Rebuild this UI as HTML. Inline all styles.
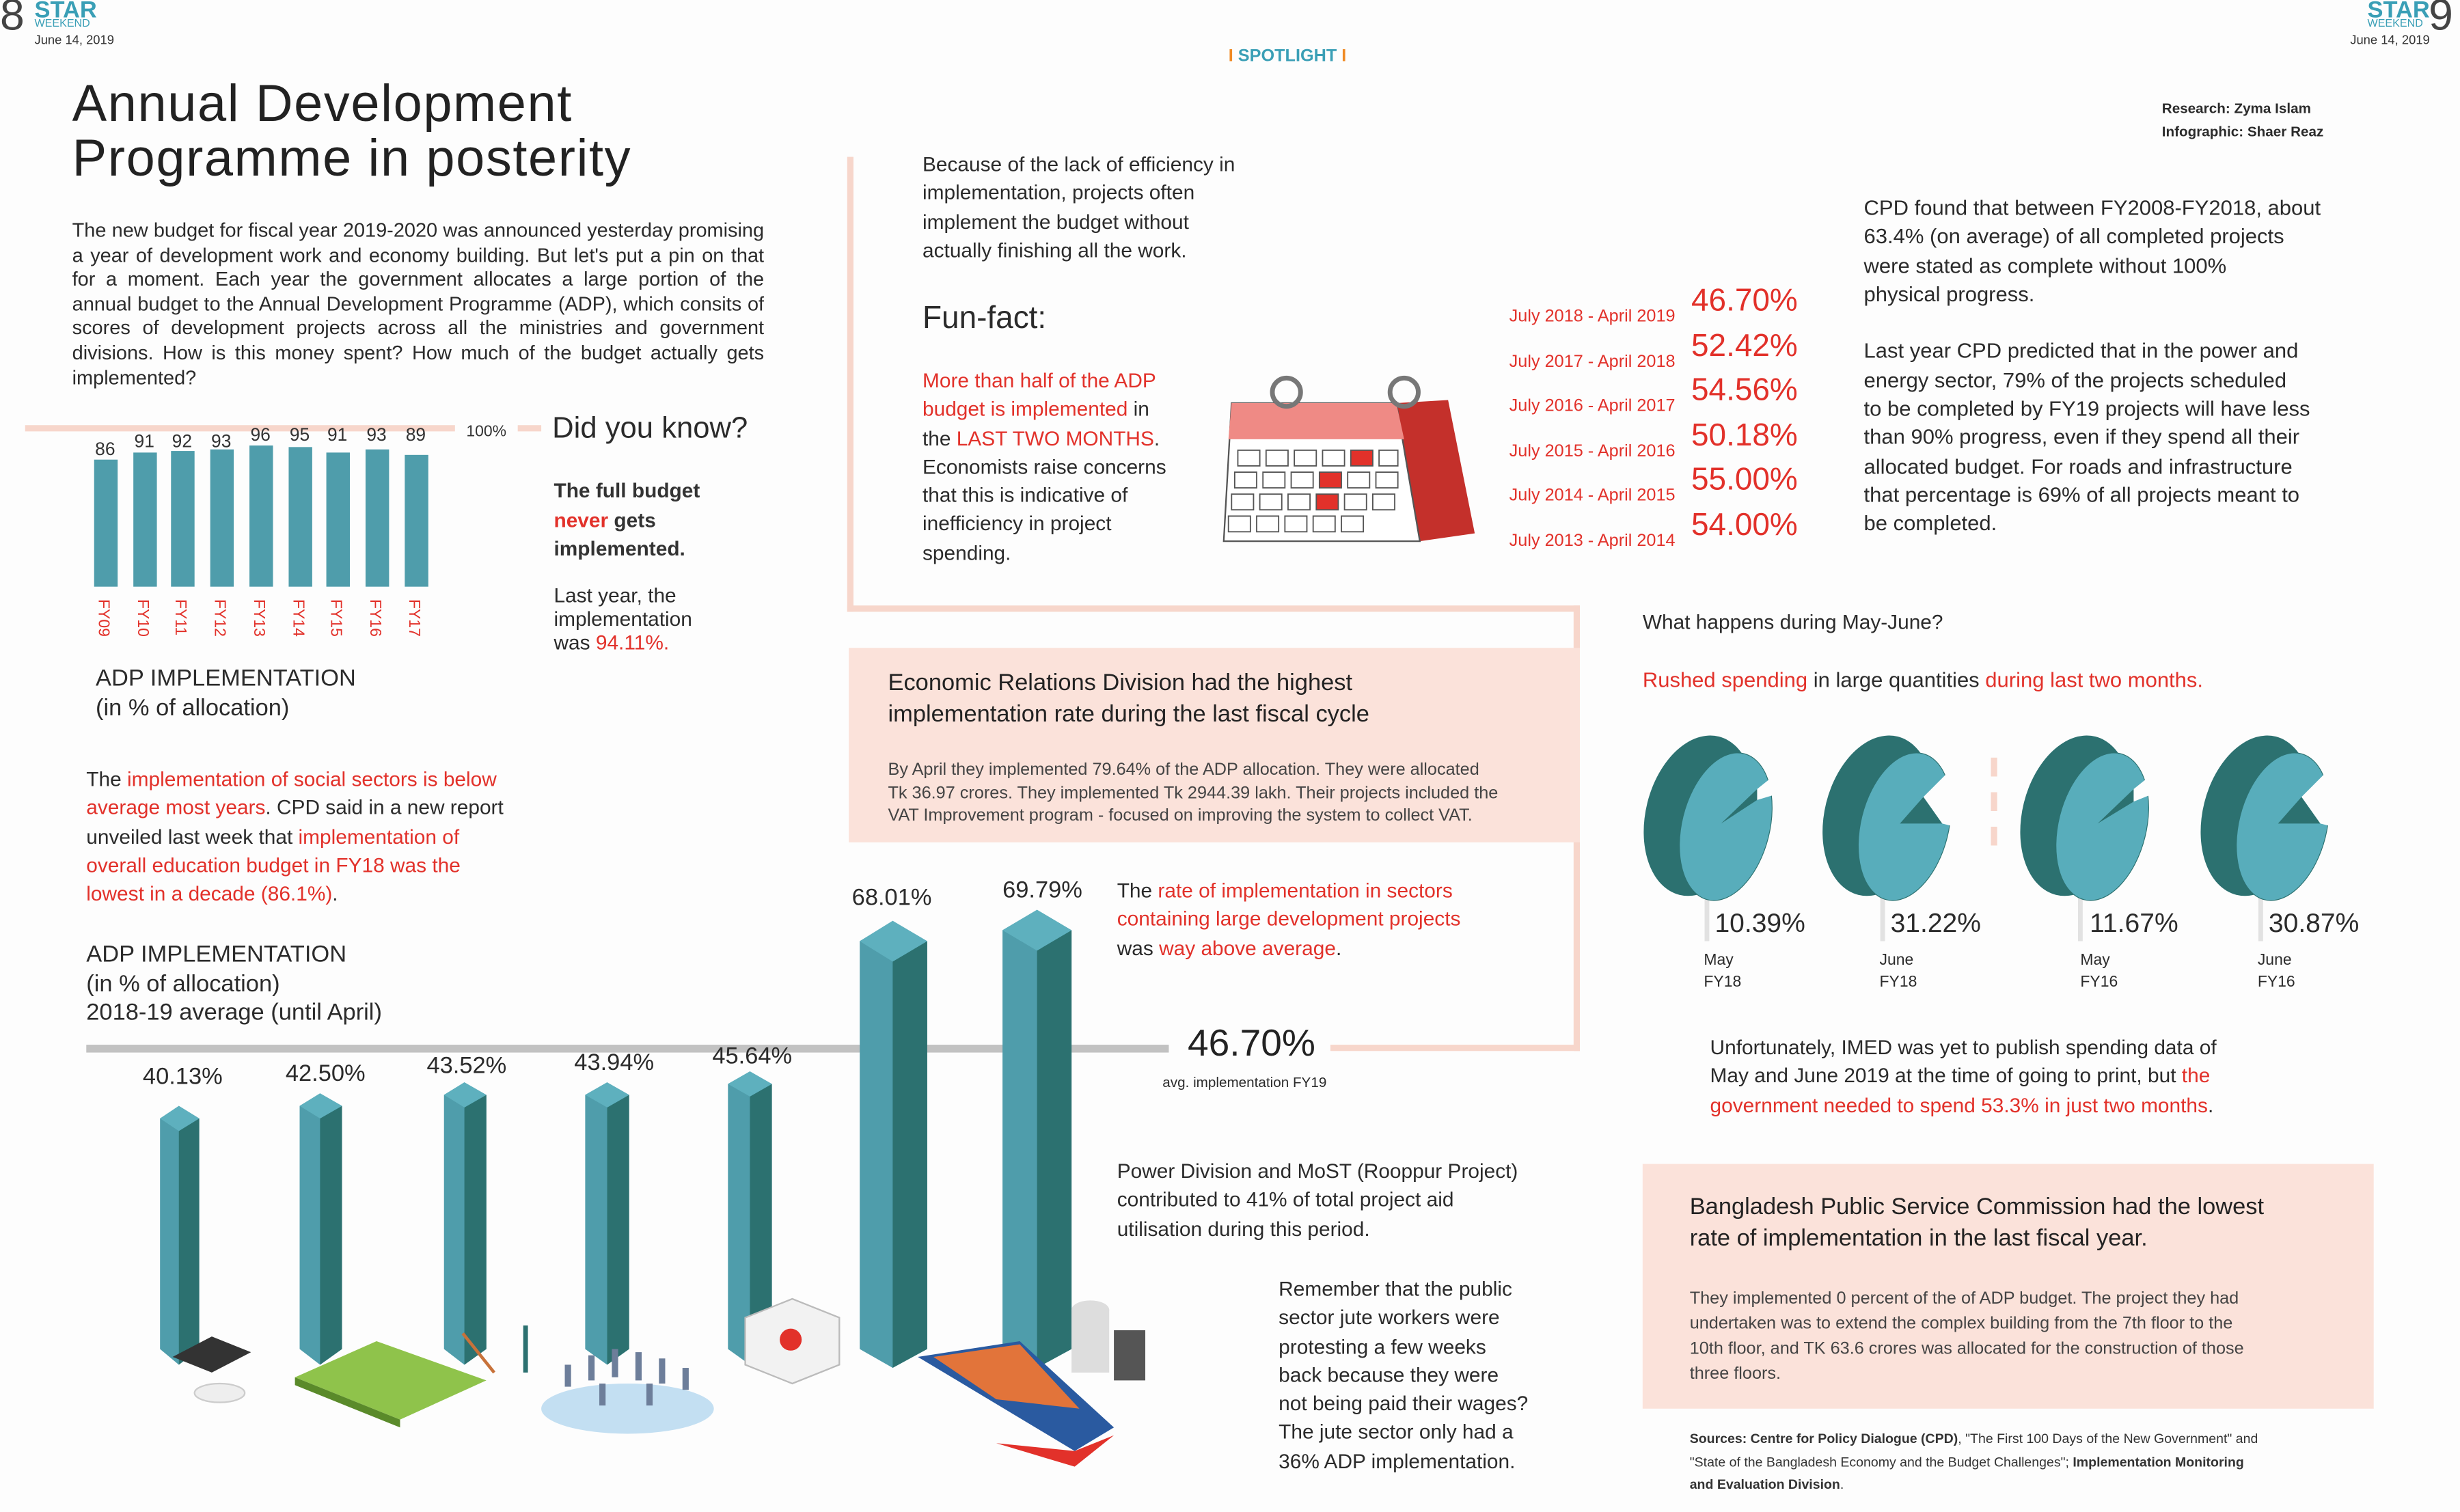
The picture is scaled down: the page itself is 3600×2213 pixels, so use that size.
<!DOCTYPE html>
<html><head><meta charset="utf-8"><style>
html,body{margin:0;padding:0;background:#fdfdfd;}
#w{width:3600px;height:2213px;overflow:hidden;position:relative;}
#p{position:absolute;left:0;top:0;width:1568px;height:964px;transform:scale(2.29592);transform-origin:0 0;font-family:"Liberation Sans Narrow","Liberation Sans",sans-serif;color:#2b2b2b;background:#fdfdfd;}
.a{position:absolute;white-space:nowrap;}
.r{color:#e2312a;}
.t{font-size:13px;line-height:18.3px;}
</style></head><body><div id="w"><div id="p">

<div class="a" style="left:0;top:-6px;font-size:28px;color:#444;">8</div>
<div class="a" style="left:22px;top:-2px;font-size:15px;font-weight:bold;color:#3a9fb6;">STAR</div>
<div class="a" style="left:22px;top:12px;font-size:7px;color:#3a9fb6;">WEEKEND</div>
<div class="a" style="left:22px;top:21px;font-size:8px;color:#333;">June 14, 2019</div>
<div class="a" style="left:1509px;top:-2px;font-size:15px;font-weight:bold;color:#3a9fb6;">STAR</div>
<div class="a" style="left:1509px;top:12px;font-size:7px;color:#3a9fb6;">WEEKEND</div>
<div class="a" style="left:1498px;top:21px;font-size:8px;color:#333;">June 14, 2019</div>
<div class="a" style="left:1548px;top:-6px;font-size:28px;color:#444;">9</div>
<div class="a" style="left:783px;top:30px;font-size:11px;font-weight:bold;color:#3a9fb6;"><span style="color:#f08a24">I</span> SPOTLIGHT <span style="color:#f08a24">I</span></div>

<div class="a" style="left:1378px;top:62px;font-size:9px;font-weight:bold;line-height:15px;">Research: Zyma Islam<br>Infographic: Shaer Reaz</div>

<div class="a" style="left:46px;top:48px;font-size:33px;line-height:35px;color:#222;letter-spacing:0.7px;">Annual Development<br>Programme in posterity</div>
<div class="a" style="left:46px;top:140px;width:441px;white-space:normal;text-align:justify;font-size:12.6px;line-height:15.6px;">The new budget for fiscal year 2019-2020 was announced yesterday promising a year of development work and economy building. But let's put a pin on that for a moment. Each year the government allocates a large portion of the annual budget to the Annual Development Programme (ADP), which consits of scores of development projects across all the ministries and government divisions. How is this money spent? How much of the budget actually gets implemented?</div>

<svg class="a" style="left:0;top:260px" width="350" height="160">
<line x1="16" y1="13" x2="345" y2="13" stroke="#f7d6cb" stroke-width="4"/>
<g fill="#4f9dab">
<rect x="60" y="33" width="15" height="81"/>
<rect x="85" y="28.5" width="15" height="85.5"/>
<rect x="109" y="27.5" width="15" height="86.5"/>
<rect x="134" y="26.5" width="15" height="87.5"/>
<rect x="159" y="24" width="15" height="90"/>
<rect x="184" y="25" width="15" height="89"/>
<rect x="208" y="28.5" width="15" height="85.5"/>
<rect x="233" y="26.5" width="15" height="87.5"/>
<rect x="258" y="30" width="15" height="84"/>
</g>
<g font-size="11.5" fill="#333" text-anchor="middle" font-family="Liberation Sans Narrow,Liberation Sans,sans-serif">
<rect x="55" y="16" width="225" height="8" fill="#fdfdfd"/>
<rect x="290" y="6" width="40" height="14" fill="#fdfdfd"/>
<text x="67" y="30">86</text><text x="92" y="25">91</text><text x="116" y="25">92</text><text x="141" y="25">93</text><text x="166" y="21">96</text><text x="191" y="21">95</text><text x="215" y="21">91</text><text x="240" y="21">93</text><text x="265" y="21">89</text>
<text x="310" y="18" font-size="10">100%</text>
</g>
<g font-size="10" fill="#e2312a" font-family="Liberation Sans Narrow,Liberation Sans,sans-serif">
<text transform="translate(63,122) rotate(90)">FY09</text>
<text transform="translate(88,122) rotate(90)">FY10</text>
<text transform="translate(112,122) rotate(90)">FY11</text>
<text transform="translate(137,122) rotate(90)">FY12</text>
<text transform="translate(162,122) rotate(90)">FY13</text>
<text transform="translate(187,122) rotate(90)">FY14</text>
<text transform="translate(211,122) rotate(90)">FY15</text>
<text transform="translate(236,122) rotate(90)">FY16</text>
<text transform="translate(261,122) rotate(90)">FY17</text>
</g>
</svg>
<div class="a" style="left:352px;top:263px;font-size:19px;">Did you know?</div>
<div class="a" style="left:353px;top:304px;font-size:13px;line-height:18.5px;font-weight:bold;color:#333;">The full budget<br><span class="r">never</span> gets<br>implemented.</div>
<div class="a" style="left:353px;top:372px;font-size:13px;line-height:15px;">Last year, the<br>implementation<br>was <span class="r">94.11%.</span></div>
<div class="a" style="left:61px;top:423px;font-size:15px;line-height:19px;">ADP IMPLEMENTATION<br>(in % of allocation)</div>

<div class="a t" style="left:55px;top:488px;">The <span class="r">implementation of social sectors is below</span><br><span class="r">average most years</span>. CPD said in a new report<br>unveiled last week that <span class="r">implementation of</span><br><span class="r">overall education budget in FY18 was the</span><br><span class="r">lowest in a decade (86.1%)</span>.</div>

<div class="a" style="left:55px;top:600px;font-size:15px;line-height:18.5px;">ADP IMPLEMENTATION<br>(in % of allocation)<br>2018-19 average (until April)</div>

<div class="a" style="left:540px;top:100px;width:4px;height:290px;background:#f7d6cb;"></div>
<div class="a" style="left:540px;top:386px;width:467px;height:4px;background:#f7d6cb;"></div>
<div class="a" style="left:1003px;top:386px;width:4px;height:284px;background:#f7d6cb;"></div>
<div class="a" style="left:848px;top:666px;width:159px;height:4px;background:#f7d6cb;"></div>
<div class="a" style="left:55px;top:666px;width:690px;height:5px;background:#c2c2c2;"></div>
<div class="a" style="left:757px;top:652px;font-size:24px;color:#222;">46.70%</div>
<div class="a" style="left:741px;top:685px;font-size:9px;">avg. implementation FY19</div>

<svg class="a" style="left:0;top:560px" width="700" height="330">
<g><polygon points="102,153 114,145 127,153 127,300 114,310 102,300" fill="#4f9dab"/><polygon points="114,161 127,153 127,300 114,310" fill="#2c7170"/><polygon points="102,153 114,145 127,153 114,161" fill="#5eb0be"/></g>
<g><polygon points="191,145 204,137 218,145 218,300 204,310 191,300" fill="#4f9dab"/><polygon points="204,153 218,145 218,300 204,310" fill="#2c7170"/><polygon points="191,145 204,137 218,145 204,153" fill="#5eb0be"/></g>
<g><polygon points="283,138 296,130 310,138 310,300 296,310 283,300" fill="#4f9dab"/><polygon points="296,146 310,138 310,300 296,310" fill="#2c7170"/><polygon points="283,138 296,130 310,138 296,146" fill="#5eb0be"/></g>
<g><polygon points="373,138 387,130 401,138 401,300 387,310 373,300" fill="#4f9dab"/><polygon points="387,146 401,138 401,300 387,310" fill="#2c7170"/><polygon points="373,138 387,130 401,138 387,146" fill="#5eb0be"/></g>
<g><polygon points="464,131 478,123 492,131 492,300 478,310 464,300" fill="#4f9dab"/><polygon points="478,139 492,131 492,300 478,310" fill="#2c7170"/><polygon points="464,131 478,123 492,131 478,139" fill="#5eb0be"/></g>
<g><polygon points="548,40 569,27 591,40 591,300 569,312 548,300" fill="#4f9dab"/><polygon points="569,53 591,40 591,300 569,312" fill="#2c7170"/><polygon points="548,40 569,27 591,40 569,53" fill="#5eb0be"/></g>
<g><polygon points="639,33 661,20 683,33 683,300 661,312 639,300" fill="#4f9dab"/><polygon points="661,46 683,33 683,300 661,312" fill="#2c7170"/><polygon points="639,33 661,20 683,33 661,46" fill="#5eb0be"/></g>
</svg>
<div class="a" style="left:91px;top:678px;font-size:15px;">40.13%</div>
<div class="a" style="left:182px;top:676px;font-size:15px;">42.50%</div>
<div class="a" style="left:272px;top:671px;font-size:15px;">43.52%</div>
<div class="a" style="left:366px;top:669px;font-size:15px;">43.94%</div>
<div class="a" style="left:454px;top:665px;font-size:15px;">45.64%</div>
<div class="a" style="left:543px;top:564px;font-size:15px;">68.01%</div>
<div class="a" style="left:639px;top:559px;font-size:15px;">69.79%</div>

<svg class="a" style="left:90px;top:820px" width="640" height="150">
<polygon points="20,45 45,32 70,42 45,55" fill="#333"/><ellipse cx="50" cy="68" rx="16" ry="6" fill="#eee" stroke="#ccc"/>
<polygon points="98,58 150,35 220,60 165,85" fill="#8fc34b"/><polygon points="98,58 165,85 165,90 98,63" fill="#5a8a2a"/>
<line x1="205" y1="30" x2="225" y2="55" stroke="#c8723a" stroke-width="2"/><line x1="245" y1="25" x2="245" y2="55" stroke="#2c7170" stroke-width="3"/>
<ellipse cx="310" cy="78" rx="55" ry="16" fill="#c3dff2"/><g fill="#6d7e9a"><rect x="270" y="50" width="4" height="14"/><rect x="285" y="44" width="4" height="16"/><rect x="300" y="40" width="4" height="18"/><rect x="315" y="42" width="4" height="18"/><rect x="330" y="46" width="4" height="16"/><rect x="345" y="52" width="4" height="14"/><rect x="292" y="62" width="4" height="14"/><rect x="322" y="62" width="4" height="14"/></g>
<polygon points="385,20 415,8 445,20 445,50 415,62 385,50" fill="#f2f2f2" stroke="#bbb"/><circle cx="414" cy="34" r="7" fill="#e2312a"/>
<polygon points="495,45 560,35 620,90 595,105" fill="#2a5aa0"/><polygon points="505,45 560,37 598,78 545,72" fill="#e2743a"/><polygon points="545,100 595,115 620,95 595,105" fill="#e2312a"/>
<ellipse cx="605" cy="15" rx="12" ry="6" fill="#ddd"/><rect x="593" y="15" width="24" height="40" fill="#ddd"/><rect x="620" y="28" width="48" height="32" fill="#555"/>
</svg>

<div class="a t" style="left:588px;top:96px;">Because of the lack of efficiency in<br>implementation, projects often<br>implement the budget without<br>actually finishing all the work.</div>
<div class="a" style="left:588px;top:192px;font-size:20px;">Fun-fact:</div>
<div class="a t" style="left:588px;top:234px;"><span class="r">More than half of the ADP</span><br><span class="r">budget is implemented</span> in<br>the <span class="r">LAST TWO MONTHS</span>.<br>Economists raise concerns<br>that this is indicative of<br>inefficiency in project<br>spending.</div>

<svg class="a" style="left:775px;top:235px" width="170" height="115">
<polygon points="115,22 148,20 165,105 130,110" fill="#c4302b"/>
<polygon points="10,22 115,22 130,110 5,110" fill="#fff" stroke="#555" stroke-width="1"/>
<polygon points="10,22 115,22 120,45 8,45" fill="#ef8a85"/>
<g fill="#fff" stroke="#555" stroke-width="0.8">
<rect x="14" y="52" width="14" height="10"/><rect x="32" y="52" width="14" height="10"/><rect x="50" y="52" width="14" height="10"/><rect x="68" y="52" width="14" height="10"/><rect x="86" y="52" width="14" height="10" fill="#e2312a"/><rect x="104" y="52" width="12" height="10"/>
<rect x="12" y="66" width="14" height="10"/><rect x="30" y="66" width="14" height="10"/><rect x="48" y="66" width="14" height="10"/><rect x="66" y="66" width="14" height="10" fill="#e2312a"/><rect x="84" y="66" width="14" height="10"/><rect x="102" y="66" width="14" height="10"/>
<rect x="10" y="80" width="14" height="10"/><rect x="28" y="80" width="14" height="10"/><rect x="46" y="80" width="14" height="10"/><rect x="64" y="80" width="14" height="10" fill="#e2312a"/><rect x="82" y="80" width="14" height="10"/><rect x="100" y="80" width="14" height="10"/>
<rect x="8" y="94" width="14" height="10"/><rect x="26" y="94" width="14" height="10"/><rect x="44" y="94" width="14" height="10"/><rect x="62" y="94" width="14" height="10"/><rect x="80" y="94" width="14" height="10"/>
</g>
<circle cx="45" cy="15" r="9" fill="none" stroke="#777" stroke-width="3"/><circle cx="120" cy="15" r="9" fill="none" stroke="#777" stroke-width="3"/>
</svg>

<div class="a" style="left:962px;top:188px;font-size:11px;line-height:28.6px;color:#e2312a;">July 2018 - April 2019<br>July 2017 - April 2018<br>July 2016 - April 2017<br>July 2015 - April 2016<br>July 2014 - April 2015<br>July 2013 - April 2014</div>
<div class="a" style="left:1078px;top:178px;font-size:20px;line-height:28.6px;color:#e2312a;">46.70%<br>52.42%<br>54.56%<br>50.18%<br>55.00%<br>54.00%</div>

<div class="a t" style="left:1188px;top:124px;font-size:13.5px;">CPD found that between FY2008-FY2018, about<br>63.4% (on average) of all completed projects<br>were stated as complete without 100%<br>physical progress.<br><br>Last year CPD predicted that in the power and<br>energy sector, 79% of the projects scheduled<br>to be completed by FY19 projects will have less<br>than 90% progress, even if they spend all their<br>allocated budget. For roads and infrastructure<br>that percentage is 69% of all projects meant to<br>be completed.</div>

<div class="a" style="left:541px;top:413px;width:466px;height:124px;background:#fbe2da;"></div>
<div class="a" style="left:566px;top:426px;font-size:15px;line-height:20px;color:#222;">Economic Relations Division had the highest<br>implementation rate during the last fiscal cycle</div>
<div class="a" style="left:566px;top:484px;font-size:11px;line-height:14.5px;color:#444;">By April they implemented 79.64% of the ADP allocation. They were allocated<br>Tk 36.97 crores. They implemented Tk 2944.39 lakh. Their projects included the<br>VAT Improvement program - focused on improving the system to collect VAT.</div>

<div class="a t" style="left:712px;top:559px;">The <span class="r">rate of implementation in sectors</span><br><span class="r">containing large development projects</span><br>was <span class="r">way above average</span>.</div>
<div class="a t" style="left:712px;top:738px;">Power Division and MoST (Rooppur Project)<br>contributed to 41% of total project aid<br>utilisation during this period.</div>
<div class="a t" style="left:815px;top:813px;">Remember that the public<br>sector jute workers were<br>protesting a few weeks<br>back because they were<br>not being paid their wages?<br>The jute sector only had a<br>36% ADP implementation.</div>

<div class="a" style="left:1047px;top:389px;font-size:13px;">What happens during May-June?</div>
<div class="a" style="left:1047px;top:426px;font-size:13.5px;"><span class="r">Rushed spending</span> in large quantities <span class="r">during last two months.</span></div>

<svg class="a" style="left:1040px;top:465px" width="490" height="170">
<line x1="231" y1="18" x2="231" y2="80" stroke="#f7d6cb" stroke-width="4" stroke-dasharray="12,10"/>
<g stroke="#e2e2e2" stroke-width="3"><line x1="48" y1="105" x2="48" y2="135"/><line x1="160" y1="105" x2="160" y2="135"/><line x1="286" y1="105" x2="286" y2="135"/><line x1="401" y1="105" x2="401" y2="135"/></g>
<!-- pie 1 -->
<g transform="translate(0,0)">
<ellipse cx="43" cy="55" rx="34" ry="52" transform="rotate(14 43 55)" fill="#2c7170"/>
<ellipse cx="60" cy="62" rx="28" ry="48" transform="rotate(14 60 62)" fill="#58adbb" stroke="#2c7170" stroke-width="0.5"/>
<polygon points="57,60 80,38 80,45" fill="#2c7170"/>
<polygon points="80,38 90,30 90,42 80,45" fill="#fdfdfd"/>
</g>
<g transform="translate(114,0)">
<ellipse cx="43" cy="55" rx="34" ry="52" transform="rotate(14 43 55)" fill="#2c7170"/>
<ellipse cx="60" cy="62" rx="28" ry="48" transform="rotate(14 60 62)" fill="#58adbb" stroke="#2c7170" stroke-width="0.5"/>
<polygon points="57,60 72,43 84,60" fill="#2c7170"/>
<polygon points="72,43 90,25 92,62 84,60" fill="#fdfdfd"/>
</g>
<g transform="translate(240,0)">
<ellipse cx="43" cy="55" rx="34" ry="52" transform="rotate(14 43 55)" fill="#2c7170"/>
<ellipse cx="60" cy="62" rx="28" ry="48" transform="rotate(14 60 62)" fill="#58adbb" stroke="#2c7170" stroke-width="0.5"/>
<polygon points="57,60 80,38 80,46" fill="#2c7170"/>
<polygon points="80,38 90,30 90,42 80,46" fill="#fdfdfd"/>
</g>
<g transform="translate(355,0)">
<ellipse cx="43" cy="55" rx="34" ry="52" transform="rotate(14 43 55)" fill="#2c7170"/>
<ellipse cx="60" cy="62" rx="28" ry="48" transform="rotate(14 60 62)" fill="#58adbb" stroke="#2c7170" stroke-width="0.5"/>
<polygon points="57,60 72,43 84,60" fill="#2c7170"/>
<polygon points="72,43 90,25 92,62 84,60" fill="#fdfdfd"/>
</g>
</svg>
<div class="a" style="left:1093px;top:579px;font-size:17px;">10.39%</div>
<div class="a" style="left:1205px;top:579px;font-size:17px;">31.22%</div>
<div class="a" style="left:1332px;top:579px;font-size:17px;">11.67%</div>
<div class="a" style="left:1446px;top:579px;font-size:17px;">30.87%</div>
<div class="a" style="left:1086px;top:606px;font-size:10px;line-height:14px;">May<br>FY18</div>
<div class="a" style="left:1198px;top:606px;font-size:10px;line-height:14px;">June<br>FY18</div>
<div class="a" style="left:1326px;top:606px;font-size:10px;line-height:14px;">May<br>FY16</div>
<div class="a" style="left:1439px;top:606px;font-size:10px;line-height:14px;">June<br>FY16</div>

<div class="a t" style="left:1090px;top:659px;">Unfortunately, IMED was yet to publish spending data of<br>May and June 2019 at the time of going to print, but <span class="r">the</span><br><span class="r">government needed to spend 53.3% in just two months</span>.</div>

<div class="a" style="left:1047px;top:742px;width:466px;height:156px;background:#fbe2da;"></div>
<div class="a" style="left:1077px;top:760px;font-size:15px;line-height:20px;color:#222;">Bangladesh Public Service Commission had the lowest<br>rate of implementation in the last fiscal year.</div>
<div class="a" style="left:1077px;top:820px;font-size:11px;line-height:16px;color:#444;">They implemented 0 percent of the of ADP budget. The project they had<br>undertaken was to extend the complex building from the 7th floor to the<br>10th floor, and TK 63.6 crores was allocated for the construction of those<br>three floors.</div>
<div class="a" style="left:1077px;top:910px;font-size:8.5px;line-height:14.5px;color:#333;"><b>Sources: Centre for Policy Dialogue (CPD)</b>, "The First 100 Days of the New Government" and<br>"State of the Bangladesh Economy and the Budget Challenges"; <b>Implementation Monitoring</b><br><b>and Evaluation Division</b>.</div>

</div></div></body></html>
